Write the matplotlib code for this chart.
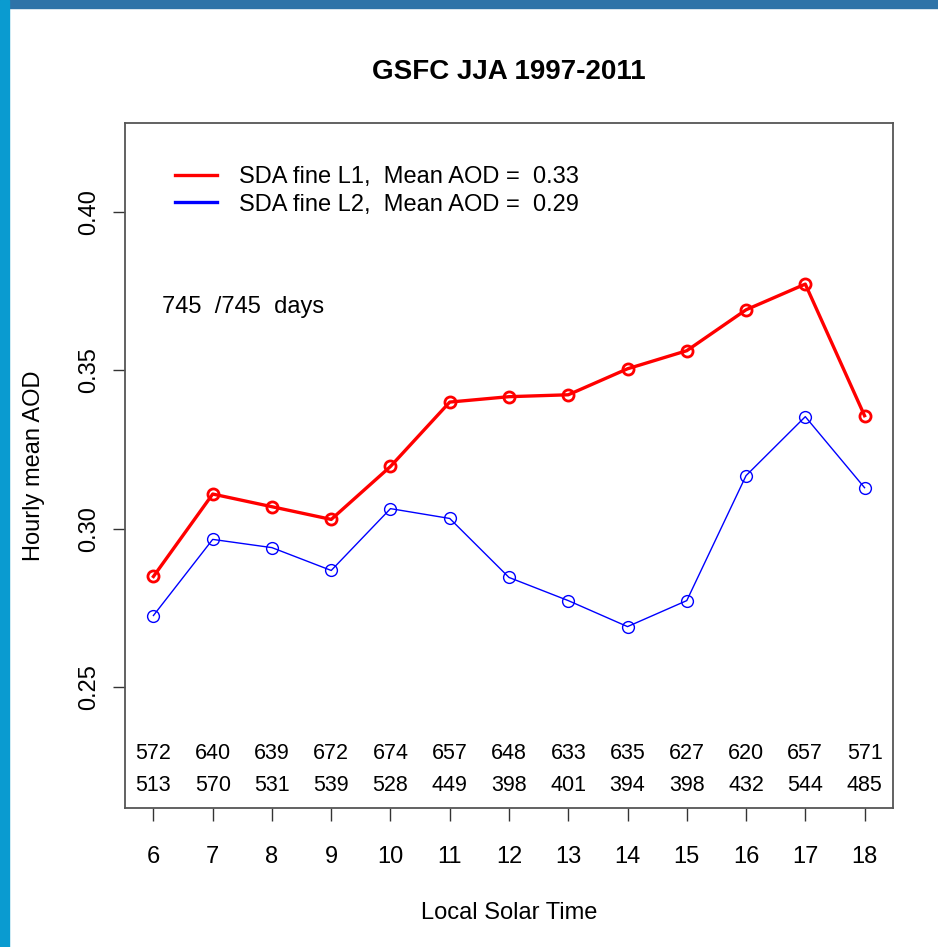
import matplotlib.pyplot as plt
from matplotlib.patches import Rectangle

# hourly mean AOD, GSFC JJA 1997-2011
hours = [6, 7, 8, 9, 10, 11, 12, 13, 14, 15, 16, 17, 18]
aod_l1 = [0.285, 0.311, 0.307, 0.303, 0.3197, 0.340, 0.3417, 0.3423,
          0.3505, 0.3562, 0.3691, 0.3772, 0.3357]
aod_l2 = [0.2727, 0.2967, 0.2941, 0.2869, 0.3064, 0.3033, 0.2847, 0.2774,
          0.2692, 0.2774, 0.3168, 0.3354, 0.313]
n_l1 = [572, 640, 639, 672, 674, 657, 648, 633, 635, 627, 620, 657, 571]
n_l2 = [513, 570, 531, 539, 528, 449, 398, 401, 394, 398, 432, 544, 485]
yticks = [0.25, 0.30, 0.35, 0.40]

plt.rcParams['font.family'] = ['Liberation Sans', 'DejaVu Sans']

W, H = 938, 947
fig = plt.figure(figsize=(W / 100, H / 100), dpi=100)
fig.patch.set_facecolor('white')

# blue slide border seen in the screenshot
fig.add_artist(Rectangle((0, 1 - 8 / H), 1, 8 / H, transform=fig.transFigure,
                         color='#2f73a8', zorder=0))
fig.add_artist(Rectangle((0, 0), 9 / W, 1, transform=fig.transFigure,
                         color='#0a9bd0', zorder=0))

left, right, top, bottom = 125, 893, 123, 808
ax = fig.add_axes([left / W, 1 - bottom / H, (right - left) / W, (bottom - top) / H])

ax.plot(hours, aod_l1, color='red', lw=2.4, marker='o', ms=8,
        mfc='none', mec='red', mew=2.0)
ax.plot(hours, aod_l2, color='blue', lw=1.0, marker='o', ms=8.5,
        mfc='none', mec='blue', mew=1.0)
# legend shows lines only
ax.plot([], [], color='red', lw=2.4, label='SDA fine L1,  Mean AOD =  0.33')
ax.plot([], [], color='blue', lw=2.4, label='SDA fine L2,  Mean AOD =  0.29')

ax.set_xlim(5.52, 18.48)
ax.set_ylim(0.212, 0.428)
ax.set_xticks(hours)
ax.set_yticks(yticks)
ax.set_yticklabels(['%.2f' % v for v in yticks], rotation=90, va='center')
ax.tick_params(axis='both', direction='out', length=9, width=1, labelsize=17,
               color='#333333')
ax.tick_params(axis='x', pad=18)
ax.tick_params(axis='y', pad=9)
for s in ax.spines.values():
    s.set_color('#555555')
    s.set_linewidth(1.3)

# number of days per hour for each level
for h, a, b in zip(hours, n_l1, n_l2):
    ax.text(h, 0.23, str(a), ha='center', va='center_baseline', fontsize=15.5)
    ax.text(h, 0.22, str(b), ha='center', va='center_baseline', fontsize=15.5)

ax.text(6.15, 0.37, '745  /745  days', ha='left', va='center', fontsize=17)

ax.legend(loc='upper left', frameon=False, fontsize=17, handlelength=1.8,
          handletextpad=0.9, labelspacing=0.23, bbox_to_anchor=(0.065, 0.937),
          borderaxespad=0, borderpad=0)

ax.set_title('GSFC JJA 1997-2011', fontsize=20, fontweight='bold', pad=32)
ax.set_xlabel('Local Solar Time', fontsize=17, labelpad=25)
ax.set_ylabel('Hourly mean AOD', fontsize=17, labelpad=24)

fig.savefig('out.png', dpi=100)
